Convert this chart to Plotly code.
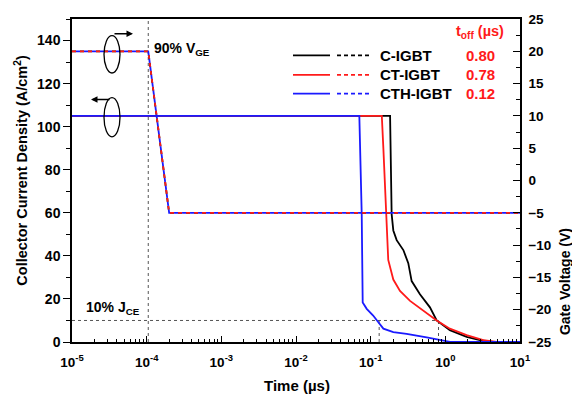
import plotly.graph_objects as go

# ---------------- data ----------------
devices = ["C-IGBT", "CT-IGBT", "CTH-IGBT"]
colors = ["#000000", "#ff1a1a", "#1a1aff"]
t_off = ["0.80", "0.78", "0.12"]

# collector current density (A/cm^2) vs time (us)
t_c = [1e-5, 0.182, 0.191, 0.201, 0.223, 0.274, 0.319, 0.354, 0.457, 0.622, 0.766, 1.15, 1.93, 2.91, 4.39, 10]
J_c = [105, 105, 59.4, 51.8, 47.3, 42.7, 36.6, 28.3, 22.2, 16.1, 10.0, 5.5, 2.4, 0.9, 0.1, 0]

t_ct = [1e-5, 0.141, 0.148, 0.160, 0.172, 0.201, 0.247, 0.337, 0.507, 0.766, 1.15, 1.93, 3.22, 4.87, 10]
J_ct = [105, 105, 89.8, 59.4, 38.1, 29.0, 23.7, 19.1, 14.6, 10.0, 6.2, 3.2, 0.9, 0.1, 0]

t_cth = [1e-5, 0.0705, 0.0759, 0.0782, 0.0885, 0.108, 0.126, 0.148, 0.201, 0.303, 0.562, 0.94, 1.15, 10]
J_cth = [105, 105, 59.4, 18.4, 15.4, 12.3, 9.3, 6.2, 4.6, 3.8, 2.1, 0.6, 0.1, 0]

# gate voltage (V) vs time (us), identical for all three devices
t_gate = [1e-5, 1.05e-4, 2.0e-4, 10]
V_gate = [20, 20, -5, -5]

# guide lines
t_90 = 1.05e-4
J_10 = 10
t_guides = [0.13, 0.81]

x_tickvals = [1e-5, 1e-4, 1e-3, 1e-2, 1e-1, 1e0, 1e1]
x_ticktext = ["10<sup>-5</sup>", "10<sup>-4</sup>", "10<sup>-3</sup>", "10<sup>-2</sup>",
              "10<sup>-1</sup>", "10<sup>0</sup>", "10<sup>1</sup>"]
x_minor = [m * d for d in x_tickvals[:-1] for m in range(2, 10)]

# ---------------- layout helpers ----------------
W, H = 572, 400
PL, PR, PT, PB = 72, 520, 13, 342
FONT = "Liberation Sans, Arial, sans-serif"


def px(x):
    return (x - PL) / (PR - PL)


def py(y):
    return (PB - y) / (PB - PT)


fig = go.Figure()

# guide lines (dotted)
gcol = "#555555"
fig.add_trace(go.Scatter(x=[t_90, t_90], y=[0, 150], mode="lines",
                         line=dict(color=gcol, width=1, dash="dot"), showlegend=False))
fig.add_trace(go.Scatter(x=[1e-5, t_guides[1]], y=[J_10, J_10], mode="lines",
                         line=dict(color=gcol, width=1, dash="dot"), showlegend=False))
for tg in t_guides:
    fig.add_trace(go.Scatter(x=[tg, tg], y=[0, J_10], mode="lines",
                             line=dict(color=gcol, width=1, dash="dot"), showlegend=False))

# current curves
for t, J, c in [(t_c, J_c, colors[0]), (t_ct, J_ct, colors[1]), (t_cth, J_cth, colors[2])]:
    fig.add_trace(go.Scatter(x=t, y=J, mode="lines", line=dict(color=c, width=1.8),
                             showlegend=False))

# gate voltage curves (dashed, on right axis)
gate_dash = ["4px,4px", "4px,4px", "0px,4px,4px,0px"]
for c, d in zip(colors, gate_dash):
    fig.add_trace(go.Scatter(x=t_gate, y=V_gate, mode="lines", yaxis="y2",
                             line=dict(color=c, width=1.8, dash=d), showlegend=False))

tickfont_x = dict(family=FONT, size=13.5, color="black", weight="bold")
tickfont_y = dict(family=FONT, size=14, color="black", weight="bold")
tickfont_y2 = dict(family=FONT, size=13.5, color="black", weight="bold")

fig.update_layout(
    width=W, height=H,
    margin=dict(l=PL, r=W - PR, t=PT, b=H - PB),
    paper_bgcolor="white", plot_bgcolor="white",
    showlegend=False,
    xaxis=dict(type="log", range=[-5, 1], showgrid=False, zeroline=False,
               showline=True, linecolor="black", linewidth=1.5, mirror=True,
               ticks="inside", ticklen=6, tickwidth=1.3, tickcolor="black",
               tickmode="array", tickvals=x_tickvals, ticktext=x_ticktext,
               tickfont=tickfont_x, ticklabelstandoff=7,
               minor=dict(ticks="inside", ticklen=3.5, tickwidth=1, tickcolor="black",
                          tickmode="array", tickvals=x_minor, showgrid=False)),
    yaxis=dict(range=[0, 150], showgrid=False, zeroline=False,
               showline=True, linecolor="black", linewidth=1.5,
               ticks="outside", ticklen=7, tickwidth=1.3, tickcolor="black",
               tickmode="array", tickvals=[0, 20, 40, 60, 80, 100, 120, 140],
               tickfont=tickfont_y,
               minor=dict(ticks="outside", ticklen=4, tickwidth=1, tickcolor="black",
                          dtick=10, showgrid=False)),
    yaxis2=dict(range=[-25, 25], overlaying="y", side="right", showgrid=False,
                zeroline=False, showline=True, linecolor="black", linewidth=1.5,
                ticks="inside", ticklen=7, tickwidth=1.3, tickcolor="black",
                dtick=5, tick0=0, tickfont=tickfont_y2, ticklabelstandoff=4,
                minor=dict(ticks="inside", ticklen=4, tickwidth=1, tickcolor="black",
                           dtick=2.5, showgrid=False)),
)


def note(text, x, y, size, color="black", xanchor="center", angle=0):
    return dict(text=text, xref="paper", yref="paper", x=px(x), y=py(y),
                xanchor=xanchor, yanchor="middle", textangle=angle, showarrow=False,
                font=dict(family=FONT, size=size, color=color))


ann = []
# axis titles
ann.append(note("<b>Time (µs)</b>", 297, 386, 15))
ann.append(note("<b>Collector Current Density (A/cm<sup>2</sup>)</b>", 21.5, 167, 14.5, angle=-90))
ann.append(note("<b>Gate Voltage (V)</b>", 565, 281, 14, angle=-90))
# labels
ann.append(note("<b>90% V<sub>GE</sub></b>", 152, 44, 14, xanchor="left"))
ann.append(note("<b>10% J<sub>CE</sub></b>", 84, 307, 14, xanchor="left"))
# legend header
ann.append(note("<b>t<sub>off</sub> (µs)</b>", 506, 26, 14.5, color=colors[1], xanchor="right"))

shapes = []
row_y = [50, 70, 89]
for name, c, val, ry in zip(devices, colors, t_off, row_y):
    shapes.append(dict(type="line", xref="paper", yref="paper", x0=px(293), x1=px(330),
                       y0=py(ry), y1=py(ry), line=dict(color=c, width=1.8)))
    shapes.append(dict(type="line", xref="paper", yref="paper", x0=px(337), x1=px(372),
                       y0=py(ry), y1=py(ry), line=dict(color=c, width=1.8, dash="4px,3px")))
    ann.append(note("<b>%s</b>" % name, 378, ry, 15, xanchor="left"))
    ann.append(note("<b>%s</b>" % val, 464, ry, 15, color=colors[1], xanchor="left"))

# axis indicator ellipses with arrows
shapes.append(dict(type="circle", xref="paper", yref="paper", x0=px(104), x1=px(120),
                   y0=py(68), y1=py(30), line=dict(color="black", width=1.3)))
shapes.append(dict(type="circle", xref="paper", yref="paper", x0=px(104), x1=px(120),
                   y0=py(133), y1=py(93), line=dict(color="black", width=1.3)))
ann.append(dict(xref="paper", yref="paper", x=px(133), y=py(28), ax=-20, ay=0,
                text="", showarrow=True, arrowhead=2, arrowsize=1, arrowwidth=1.3,
                arrowcolor="black"))
ann.append(dict(xref="paper", yref="paper", x=px(91), y=py(95), ax=20, ay=0,
                text="", showarrow=True, arrowhead=2, arrowsize=1, arrowwidth=1.3,
                arrowcolor="black"))

fig.update_layout(annotations=ann, shapes=shapes)

fig.write_html("out.html")
